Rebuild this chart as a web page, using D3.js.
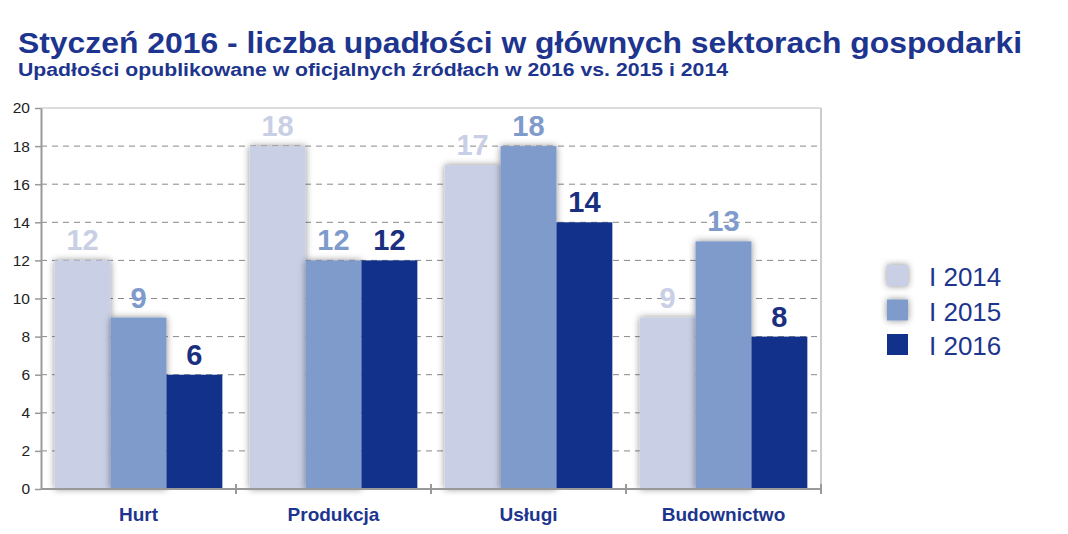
<!DOCTYPE html>
<html><head><meta charset="utf-8">
<script src="https://cdn.jsdelivr.net/npm/d3@7/dist/d3.min.js"></script>
<style>body{margin:0;background:#fff}svg{display:block}</style>
</head><body>
<svg id="c" width="1068" height="534"></svg>
<script>
const categories = ["Hurt", "Produkcja", "Usługi", "Budownictwo"];
const seriesNames = ["I 2014", "I 2015", "I 2016"];
const values2014 = [12, 18, 17, 9];
const values2015 = [9, 12, 18, 13];
const values2016 = [6, 12, 14, 8];
const yTicks = [0, 2, 4, 6, 8, 10, 12, 14, 16, 18, 20];
const colors = ["#c9cfe5", "#7f9bcc", "#11318a"];
const labelColors = ["#c9cfe5", "#7f9bcc", "#1b2f80"];
const series = [values2014, values2015, values2016];

const svg = d3.select("#c");
const blue = "#1d358e";

const defs = svg.append("defs");
const f = defs.append("filter").attr("id", "sh").attr("x", "-30%").attr("y", "-30%").attr("width", "160%").attr("height", "160%");
f.append("feGaussianBlur").attr("in", "SourceAlpha").attr("stdDeviation", 3.5).attr("result", "b");
f.append("feFlood").attr("flood-color", "#000").attr("flood-opacity", 0.45);
f.append("feComposite").attr("in2", "b").attr("operator", "in").attr("result", "s");
const m = f.append("feMerge"); m.append("feMergeNode").attr("in", "s"); m.append("feMergeNode").attr("in", "SourceGraphic");

svg.append("text").attr("x", 18).attr("y", 53).attr("fill", blue)
  .attr("textLength", 1004).attr("lengthAdjust", "spacingAndGlyphs")
  .style("font", "bold 29px 'Liberation Sans', Arial, sans-serif")
  .text("Styczeń 2016 - liczba upadłości w głównych sektorach gospodarki");
svg.append("text").attr("x", 18).attr("y", 76).attr("fill", blue)
  .attr("textLength", 710).attr("lengthAdjust", "spacingAndGlyphs")
  .style("font", "bold 17.5px 'Liberation Sans', Arial, sans-serif")
  .text("Upadłości opublikowane w oficjalnych źródłach w 2016 vs. 2015 i 2014");

const x0 = d3.scaleBand().domain(categories).range([41, 821]).paddingInner(0.14).paddingOuter(0.07);
const x1 = d3.scaleBand().domain(d3.range(3)).range([0, x0.bandwidth()]);
const y = d3.scaleLinear().domain([0, 20]).range([489, 108]);

// grid
svg.append("g").selectAll("line").data(yTicks.filter(t => t > 0 && t < 20)).join("line")
  .attr("x1", 41).attr("x2", 821).attr("y1", d => y(d)).attr("y2", d => y(d))
  .attr("stroke", "#888").attr("stroke-dasharray", "6,5").attr("stroke-width", 1);
svg.append("line").attr("x1", 41).attr("x2", 821).attr("y1", y(20)).attr("y2", y(20)).attr("stroke", "#ddd").attr("stroke-width", 2);
svg.append("line").attr("x1", 821).attr("x2", 821).attr("y1", y(20)).attr("y2", y(0)).attr("stroke", "#ccc").attr("stroke-width", 2);

// bars
const g = svg.append("g");
categories.forEach((c, ci) => {
  series.forEach((s, si) => {
    g.append("rect").attr("x", x0(c) + x1(si)).attr("y", y(s[ci]))
      .attr("width", x1.bandwidth()).attr("height", y(0) - y(s[ci]))
      .attr("fill", colors[si]).attr("filter", si < 2 ? "url(#sh)" : null);
  });
});
categories.forEach((c, ci) => {
  series.forEach((s, si) => {
    g.append("text").attr("x", x0(c) + x1(si) + x1.bandwidth() / 2).attr("y", y(s[ci]) - 10)
      .attr("text-anchor", "middle").attr("fill", labelColors[si])
      .style("font", "bold 29px 'Liberation Sans', Arial, sans-serif").text(s[ci]);
  });
});

// y axis
const ya = svg.append("g").attr("transform", "translate(41,0)")
  .call(d3.axisLeft(y).tickValues(yTicks).tickSize(6).tickPadding(5).tickSizeOuter(0));
ya.select(".domain").attr("stroke", "#999").attr("stroke-width", 2);
ya.selectAll(".tick line").attr("stroke", "#999").attr("stroke-width", 1.5);
ya.selectAll(".tick text").attr("fill", "#222").style("font", "15.5px 'Liberation Sans', Arial, sans-serif");

// x axis
svg.append("line").attr("x1", 41).attr("x2", 821).attr("y1", y(0)).attr("y2", y(0)).attr("stroke", "#999").attr("stroke-width", 2);
const bounds = categories.map(c => x0(c) + x0.bandwidth() + x0.step() * x0.paddingInner() / 2);
svg.append("g").selectAll("line").data(bounds).join("line")
  .attr("x1", d => d).attr("x2", d => d).attr("y1", y(0) - 5).attr("y2", y(0) + 5)
  .attr("stroke", "#999").attr("stroke-width", 2);
svg.append("g").selectAll("text").data(categories).join("text")
  .attr("x", d => x0(d) + x0.bandwidth() / 2).attr("y", 521).attr("text-anchor", "middle")
  .attr("fill", blue).style("font", "bold 19px 'Liberation Sans', Arial, sans-serif").text(d => d);

// legend
const lg = svg.append("g");
seriesNames.forEach((n, i) => {
  const yy = 265 + i * 34.5;
  lg.append("rect").attr("x", 887).attr("y", yy).attr("width", 21).attr("height", 21)
    .attr("fill", colors[i]).attr("filter", i < 2 ? "url(#sh)" : null);
  lg.append("text").attr("x", 929).attr("y", yy + 21).attr("fill", blue)
    .style("font", "26px 'Liberation Sans', Arial, sans-serif").text(n);
});
</script>
</body></html>
